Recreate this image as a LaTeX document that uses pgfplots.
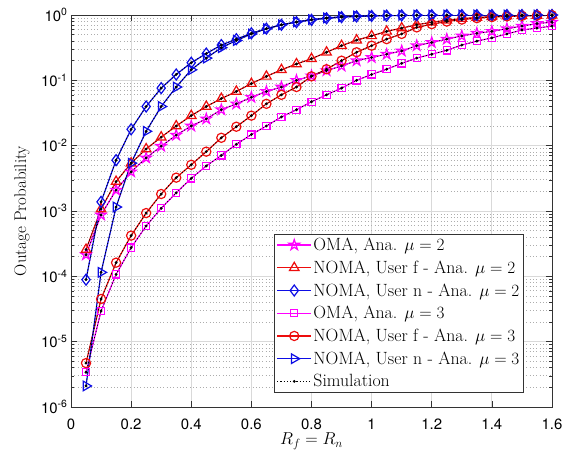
\documentclass[border=0pt]{standalone}
\usepackage{fontspec}
\usepackage{pgfplots}
\usepackage{pgfplotstable}
\pgfplotsset{compat=1.18}
\usetikzlibrary{calc}
\newfontfamily\heros{TeX Gyre Heros}
\definecolor{mmag}{rgb}{1,0,1}
\definecolor{mred}{rgb}{0.93,0.05,0.05}
\definecolor{mblue}{rgb}{0.05,0.05,0.9}
\pgfdeclareplotmark{pentagram}{%
  \pgfpathmoveto{\pgfpointpolar{90}{\pgfplotmarksize}}%
  \pgfpathlineto{\pgfpointpolar{126}{0.382*\pgfplotmarksize}}%
  \pgfpathlineto{\pgfpointpolar{162}{\pgfplotmarksize}}%
  \pgfpathlineto{\pgfpointpolar{198}{0.382*\pgfplotmarksize}}%
  \pgfpathlineto{\pgfpointpolar{234}{\pgfplotmarksize}}%
  \pgfpathlineto{\pgfpointpolar{270}{0.382*\pgfplotmarksize}}%
  \pgfpathlineto{\pgfpointpolar{306}{\pgfplotmarksize}}%
  \pgfpathlineto{\pgfpointpolar{342}{0.382*\pgfplotmarksize}}%
  \pgfpathlineto{\pgfpointpolar{18}{\pgfplotmarksize}}%
  \pgfpathlineto{\pgfpointpolar{54}{0.382*\pgfplotmarksize}}%
  \pgfpathclose
  \pgfusepathqstroke
}
\pgfplotstableread{
x oma2 nf2 nn2 oma3 nf3 nn3
0.05 2.14e-4 2.57e-4 8.9e-5 3.4e-6 4.7e-6 2.1e-6
0.10 8.7e-4 1.07e-3 1.38e-3 2.95e-5 4.5e-5 1.15e-4
0.15 2.09e-3 2.82e-3 6.0e-3 1.07e-4 1.62e-4 1.15e-3
0.20 3.98e-3 5.4e-3 1.78e-2 2.75e-4 4.2e-4 5.4e-3
0.25 6.5e-3 8.9e-3 3.98e-2 5.9e-4 9.3e-4 1.66e-2
0.30 9.8e-3 1.35e-2 7.6e-2 1.1e-3 1.82e-3 3.98e-2
0.35 1.45e-2 2.0e-2 0.123 1.9e-3 3.24e-3 7.9e-2
0.40 2.0e-2 2.88e-2 0.186 3.16e-3 5.1e-3 0.145
0.45 2.57e-2 3.98e-2 0.257 4.9e-3 8.1e-3 0.219
0.50 3.55e-2 5.25e-2 0.347 7.1e-3 1.32e-2 0.316
0.55 4.37e-2 6.76e-2 0.427 1.05e-2 1.95e-2 0.407
0.60 5.5e-2 8.9e-2 0.525 1.48e-2 2.88e-2 0.513
0.65 6.76e-2 0.115 0.617 2.0e-2 4.37e-2 0.617
0.70 7.9e-2 0.145 0.708 2.75e-2 6.0e-2 0.708
0.75 0.1 0.178 0.776 3.55e-2 7.9e-2 0.785
0.80 0.117 0.214 0.841 4.7e-2 0.115 0.851
0.85 0.141 0.269 0.891 6.0e-2 0.148 0.902
0.90 0.166 0.339 0.927 7.6e-2 0.2 0.937
0.95 0.2 0.412 0.951 0.1 0.269 0.962
1.00 0.224 0.479 0.968 0.123 0.339 0.977
1.05 0.251 0.562 0.979 0.148 0.427 0.986
1.10 0.282 0.631 0.986 0.182 0.513 0.992
1.15 0.339 0.708 0.991 0.219 0.646 0.995
1.20 0.38 0.776 0.994 0.251 0.724 0.997
1.25 0.427 0.832 0.996 0.288 0.794 0.998
1.30 0.479 0.881 0.997 0.347 0.851 0.999
1.35 0.525 0.916 0.998 0.398 0.895 0.9994
1.40 0.562 0.942 0.9988 0.447 0.929 0.9996
1.45 0.617 0.962 0.9992 0.513 0.953 0.9998
1.50 0.676 0.975 0.9995 0.589 0.97 0.9999
1.55 0.741 0.984 0.9997 0.631 0.982 0.9999
1.60 0.776 0.99 0.9998 0.676 0.989 0.9999
}\data
\begin{document}
\begin{tikzpicture}
\begin{axis}[
  scale only axis, width=481bp, height=392bp,
  xmin=0, xmax=1.6, ymode=log, ymin=1e-6, ymax=1,
  xtick={0,0.2,0.4,0.6,0.8,1,1.2,1.4,1.6},
  xticklabels={0,0.2,0.4,0.6,0.8,1,1.2,1.4,1.6},
  ytick={1e-6,1e-5,1e-4,1e-3,1e-2,1e-1,1},
  yticklabels={10\textsuperscript{-6},10\textsuperscript{-5},10\textsuperscript{-4},10\textsuperscript{-3},10\textsuperscript{-2},10\textsuperscript{-1},10\textsuperscript{0}},
  tick align=inside, major tick length=6bp, minor tick length=3bp,
  grid=both,
  major grid style={black!15, line width=0.9bp},
  minor grid style={black!32, dash pattern=on 0.7bp off 2.6bp, line width=0.7bp},
  axis line style={black!80, line width=0.8bp},
  tick style={black!80, line width=0.6bp},
  ticklabel style={font=\heros\fontsize{15}{15}\selectfont},
  xticklabel style={yshift=-8bp},
  xlabel={$R_f = R_n$}, ylabel={Outage Probability},
  label style={font=\fontsize{17}{17}\selectfont},
  xlabel style={at={(axis description cs:0.5,0)}, anchor=center, yshift=-34bp, inner sep=0pt},
  ylabel style={at={(axis description cs:-0.1019,0.5)}, anchor=center},
  legend style={at={(0.94,0.038)}, anchor=south east, draw=black!80,
    font=\fontsize{17.8}{21}\selectfont, inner sep=2bp, row sep=5.5bp,
    nodes={inner sep=1.6bp}},
  legend cell align=left,
  legend image code/.code={\draw[mark repeat=2,mark phase=2] plot coordinates {(0cm,0cm) (0.6cm,0cm) (1.2cm,0cm)};},
  every axis plot/.append style={line width=1.2bp},
]
\coordinate (sw) at (rel axis cs:0,0);
\coordinate (ne) at (rel axis cs:1,1);
\addplot[mmag, mark=pentagram, mark size=5.5bp] table[x=x,y=oma2]{\data};
\addlegendentry{OMA, Ana. $\mu=2$}
\addplot[mred, mark=triangle, mark size=5.5bp] table[x=x,y=nf2]{\data};
\addlegendentry{NOMA, User f - Ana. $\mu=2$}
\addplot[mblue, mark=diamond, mark size=5.5bp] table[x=x,y=nn2]{\data};
\addlegendentry{NOMA, User n - Ana. $\mu=2$}
\addplot[mmag, mark=square, mark size=3.6bp] table[x=x,y=oma3]{\data};
\addlegendentry{OMA, Ana. $\mu=3$}
\addplot[mred, mark=o, mark size=4.6bp] table[x=x,y=nf3]{\data};
\addlegendentry{NOMA, User f - Ana. $\mu=3$}
\addplot[mblue, mark=triangle, mark size=5.5bp, mark options={rotate=-90}] table[x=x,y=nn3]{\data};
\addlegendentry{NOMA, User n - Ana. $\mu=3$}
\addplot[black, dotted, line width=0.8bp, mark=*, mark size=1bp, mark options={solid}] table[x=x,y=oma2]{\data};
\addlegendentry{Simulation}
\addplot[black, dotted, line width=0.8bp, mark=*, mark size=1bp, mark options={solid}, forget plot] table[x=x,y=nf2]{\data};
\addplot[black, dotted, line width=0.8bp, mark=*, mark size=1bp, mark options={solid}, forget plot] table[x=x,y=nn2]{\data};
\addplot[black, dotted, line width=0.8bp, mark=*, mark size=1bp, mark options={solid}, forget plot] table[x=x,y=oma3]{\data};
\addplot[black, dotted, line width=0.8bp, mark=*, mark size=1bp, mark options={solid}, forget plot] table[x=x,y=nf3]{\data};
\addplot[black, dotted, line width=0.8bp, mark=*, mark size=1bp, mark options={solid}, forget plot] table[x=x,y=nn3]{\data};
\end{axis}
\path ($(sw)+(-71bp,-47bp)$) rectangle ($(ne)+(15bp,15bp)$);
\end{tikzpicture}
\end{document}
